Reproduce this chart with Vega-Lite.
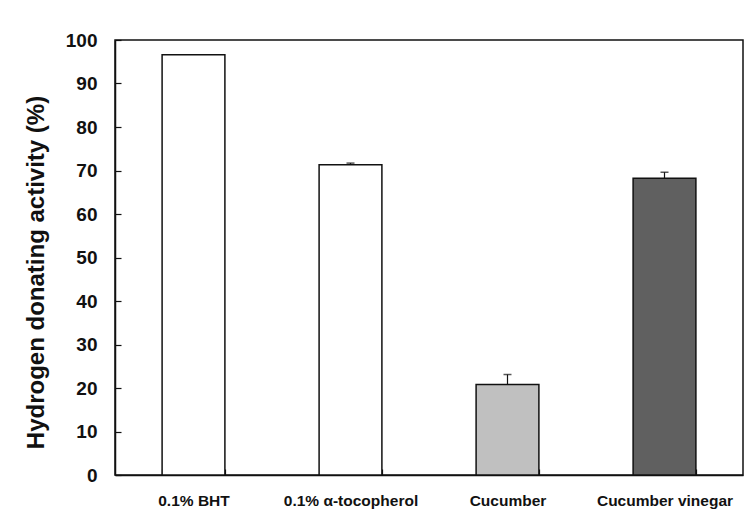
{
  "$schema": "https://vega.github.io/schema/vega-lite/v6.json",
  "width": 628,
  "height": 435,
  "autosize": {"type": "none"},
  "padding": {"left": 115, "top": 40, "right": 10, "bottom": 45},
  "background": "white",
  "config": {
    "view": {"stroke": "#111", "strokeWidth": 1.5},
    "axis": {"domainColor": "#111", "domainWidth": 1.5, "tickColor": "#111", "tickWidth": 1.2, "labelColor": "#111", "titleColor": "#111", "grid": false}
  },
  "data": {
    "values": [
      {"sample": "0.1% BHT", "value": 96.6},
      {"sample": "0.1% α-tocopherol", "value": 71.3, "upper": 71.7},
      {"sample": "Cucumber", "value": 20.8, "upper": 23.1},
      {"sample": "Cucumber vinegar", "value": 68.2, "upper": 69.6}
    ]
  },
  "encoding": {
    "x": {
      "field": "sample", "type": "nominal", "sort": null,
      "scale": {"paddingInner": 0.6, "paddingOuter": 0.3},
      "axis": {"title": null, "labelAngle": 0, "tickBand": "extent", "tickSize": -6, "labelPadding": 24,
               "labelFont": "Liberation Sans", "labelFontSize": 15.5, "labelFontWeight": "bold"}
    }
  },
  "layer": [
    {
      "mark": {"type": "bar", "stroke": "#111", "strokeWidth": 1.5},
      "encoding": {
        "y": {
          "field": "value", "type": "quantitative",
          "scale": {"domain": [0, 100], "nice": false},
          "axis": {"title": "Hydrogen donating activity (%)", "values": [0,10,20,30,40,50,60,70,80,90,100],
                   "tickSize": -6, "labelPadding": 24,
                   "labelFont": "Liberation Sans", "labelFontSize": 19, "labelFontWeight": "bold",
                   "titleFont": "Liberation Sans", "titleFontSize": 24, "titleFontWeight": "bold", "titlePadding": 17, "titleY": 232}
        },
        "fill": {
          "field": "sample", "type": "nominal", "legend": null,
          "scale": {"domain": ["0.1% BHT", "0.1% α-tocopherol", "Cucumber", "Cucumber vinegar"], "range": ["#ffffff", "#ffffff", "#c0c0c0", "#606060"]}
        }
      }
    },
    {
      "transform": [{"filter": "isValid(datum.upper)"}],
      "mark": {"type": "rule", "color": "#111", "strokeWidth": 1.2},
      "encoding": {
        "y": {"field": "value", "type": "quantitative"},
        "y2": {"field": "upper"}
      }
    },
    {
      "transform": [{"filter": "isValid(datum.upper)"}],
      "mark": {"type": "tick", "color": "#111", "size": 8, "thickness": 1.5},
      "encoding": {
        "y": {"field": "upper", "type": "quantitative"}
      }
    }
  ]
}
